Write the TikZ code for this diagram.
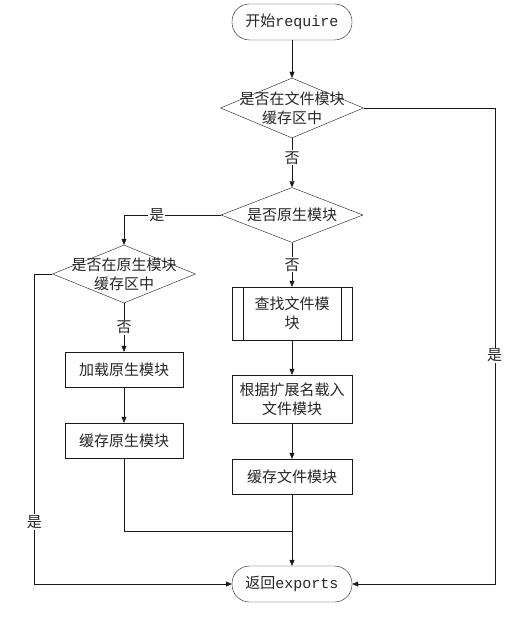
\documentclass[tikz,border=0pt]{standalone}
\usepackage{fontspec}
\setmainfont{Noto Sans CJK SC}
\setmonofont{Liberation Mono}
\usetikzlibrary{shapes.geometric,arrows.meta}

\tikzset{
  txt/.style={text=black!85, font=\fontsize{15}{19}\selectfont},
  flow/.style={draw=black!90, thin, txt},
  terminal/.style={flow, rectangle, rounded corners=17.5pt, minimum width=120pt, minimum height=36pt, inner sep=0pt},
  procbox/.style={flow, rectangle, minimum width=118pt, minimum height=35pt, inner sep=0pt, align=center},
  decision/.style={flow, diamond, minimum width=143pt, minimum height=58pt, inner sep=0pt},
  conn/.style={draw=black!90, thin},
  arr/.style={conn, -{Triangle[length=6pt,width=5pt]}},
  yesno/.style={txt, fill=white, inner sep=1pt},
}

\begin{document}
\begin{tikzpicture}[x=1pt,y=-1pt]
  \useasboundingbox (0,0) rectangle (529,631);

  % Terminals
  \node[terminal] (start) at (292,22) {开始\texttt{require}};
  \node[terminal] (end) at (292,584) {返回\texttt{exports}};

  % Decisions
  \node[decision, minimum height=60pt] (d1) at (292,108)
    [label={[txt, align=center]center:{是否在文件模块\\缓存区中}}] {};
  \node[decision, minimum width=142pt, minimum height=55pt] (d2) at (292,215)
    [label={[txt]center:是否原生模块}] {};
  \node[decision] (d3) at (124,274)
    [label={[txt, align=center]center:{是否在原生模块\\缓存区中}}] {};

  % Left column
  \node[procbox] (b1) at (124,369.5) {加载原生模块};
  \node[procbox] (b2) at (124,440.5) {缓存原生模块};

  % Right column
  \node[procbox, minimum width=120pt, minimum height=53pt] (b3) at (292,313.5) {查找文件模\\块};
  \node[procbox, minimum width=120pt, minimum height=48pt] (b4) at (292,399) {根据扩展名载入\\文件模块};
  \node[procbox, minimum width=120pt] (b5) at (292,476.5) {缓存文件模块};

  % Subprocess bars
  \draw[conn] ([xshift=11pt]b3.north west) -- ([xshift=11pt]b3.south west);
  \draw[conn] ([xshift=-11pt]b3.north east) -- ([xshift=-11pt]b3.south east);

  \coordinate (join) at (292,531);

  % Connectors
  \draw[arr] (start) -- (d1);
  \draw[arr] (d1) -- node[yesno, pos=0.4] {否} (d2);
  \draw[arr] (d2) -- node[yesno] {否} (b3);
  \draw[arr] (b3) -- (b4);
  \draw[arr] (b4) -- (b5);
  \draw[arr] (b5) -- (end);

  \draw[arr] (d2.west) -| node[yesno, pos=0.33] {是} (d3.north);
  \draw[arr] (d3) -- node[yesno] {否} (b1);
  \draw[arr] (b1) -- (b2);
  \draw[conn] (b2.south) |- (join);

  \draw[arr] (d1.east) -- ++(131,0) |- node[yesno, pos=0.26] {是} (end.east);
  \draw[arr] (d3.west) -- ++(-18,0) |- node[yesno, pos=0.4] {是} (end.west);

\end{tikzpicture}
\end{document}
